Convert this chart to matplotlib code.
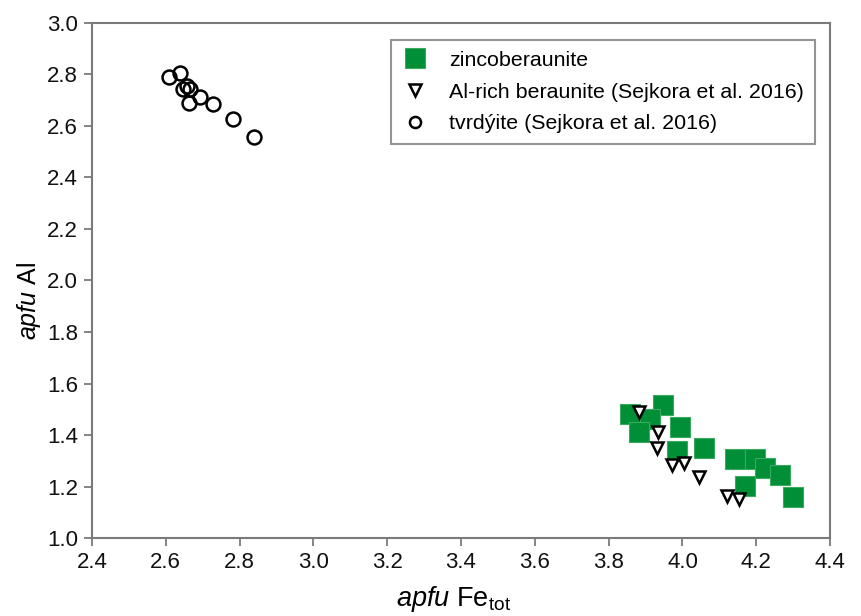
import matplotlib
matplotlib.use('Agg')
import matplotlib.pyplot as plt

plt.rcParams['font.family'] = ['Liberation Sans', 'DejaVu Sans']
plt.rcParams['mathtext.fontset'] = 'custom'
plt.rcParams['mathtext.rm'] = 'Liberation Sans'
plt.rcParams['mathtext.it'] = 'Liberation Sans:italic'

# zincoberaunite (this work)
zinc_fe = [3.858, 3.948, 3.912, 3.883, 3.992, 3.986, 4.059, 4.143, 4.197, 4.224, 4.265, 4.170, 4.300]
zinc_al = [1.480, 1.517, 1.461, 1.413, 1.432, 1.338, 1.348, 1.307, 1.307, 1.271, 1.245, 1.202, 1.158]

# Al-rich beraunite (Sejkora et al. 2016)
ber_fe = [3.882, 3.933, 3.932, 3.971, 4.005, 4.044, 4.120, 4.154]
ber_al = [1.488, 1.413, 1.348, 1.283, 1.292, 1.236, 1.164, 1.150]

# tvrdýite (Sejkora et al. 2016)
tvr_fe = [2.609, 2.638, 2.646, 2.657, 2.666, 2.662, 2.693, 2.729, 2.783, 2.840]
tvr_al = [2.789, 2.807, 2.742, 2.755, 2.742, 2.690, 2.711, 2.685, 2.626, 2.556]

xticks = [2.4, 2.6, 2.8, 3.0, 3.2, 3.4, 3.6, 3.8, 4.0, 4.2, 4.4]
yticks = [1.0, 1.2, 1.4, 1.6, 1.8, 2.0, 2.2, 2.4, 2.6, 2.8, 3.0]

fig = plt.figure(figsize=(8.62, 6.16), dpi=100)
ax = fig.add_axes([0.1067, 0.1266, 0.8563, 0.8361])

ax.plot(zinc_fe, zinc_al, 's', ms=14, mfc='#008f36', mec='#3aa85e', mew=0.8,
        ls='none', label='zincoberaunite', zorder=2)
ax.plot(ber_fe, ber_al, 'v', ms=9, mfc='white', mec='black', mew=1.8,
        ls='none', label='Al-rich beraunite (Sejkora et al. 2016)', zorder=3)
ax.plot(tvr_fe, tvr_al, 'o', ms=10, mfc='none', mec='black', mew=1.8,
        ls='none', label='tvrdýite (Sejkora et al. 2016)', zorder=3)

ax.set_xlim(2.4, 4.4)
ax.set_ylim(1.0, 3.0)
ax.set_xticks(xticks)
ax.set_yticks(yticks)
ax.set_xticklabels([f'{t:.1f}' for t in xticks])
ax.set_yticklabels([f'{t:.1f}' for t in yticks])

for s in ax.spines.values():
    s.set_color('#7a7a7a')
    s.set_linewidth(1.5)
ax.tick_params(direction='out', length=6, width=1.3, color='#7a7a7a',
               labelsize=16, labelcolor='#111111', pad=4)

ax.set_xlabel(r'$\it{apfu}$ Fe$_{\rm tot}$', fontsize=19.5)
ax.set_ylabel(r'$\it{apfu}$ Al', fontsize=18)
ax.xaxis.set_label_coords(0.49, -0.089)
ax.yaxis.set_label_coords(-0.067, 0.46)

leg = ax.legend(loc='upper right', bbox_to_anchor=(0.985, 0.975), fontsize=15.4,
                frameon=True, fancybox=False, edgecolor='#7a7a7a',
                borderpad=0.5, labelspacing=0.6, handletextpad=1.0,
                handlelength=1.2, borderaxespad=0.2)
leg.get_frame().set_linewidth(1.5)
handles = leg.legend_handles
handles[0].set_markersize(14)
handles[1].set_markersize(8)
handles[2].set_markersize(8)

fig.savefig('out.png', dpi=100)
